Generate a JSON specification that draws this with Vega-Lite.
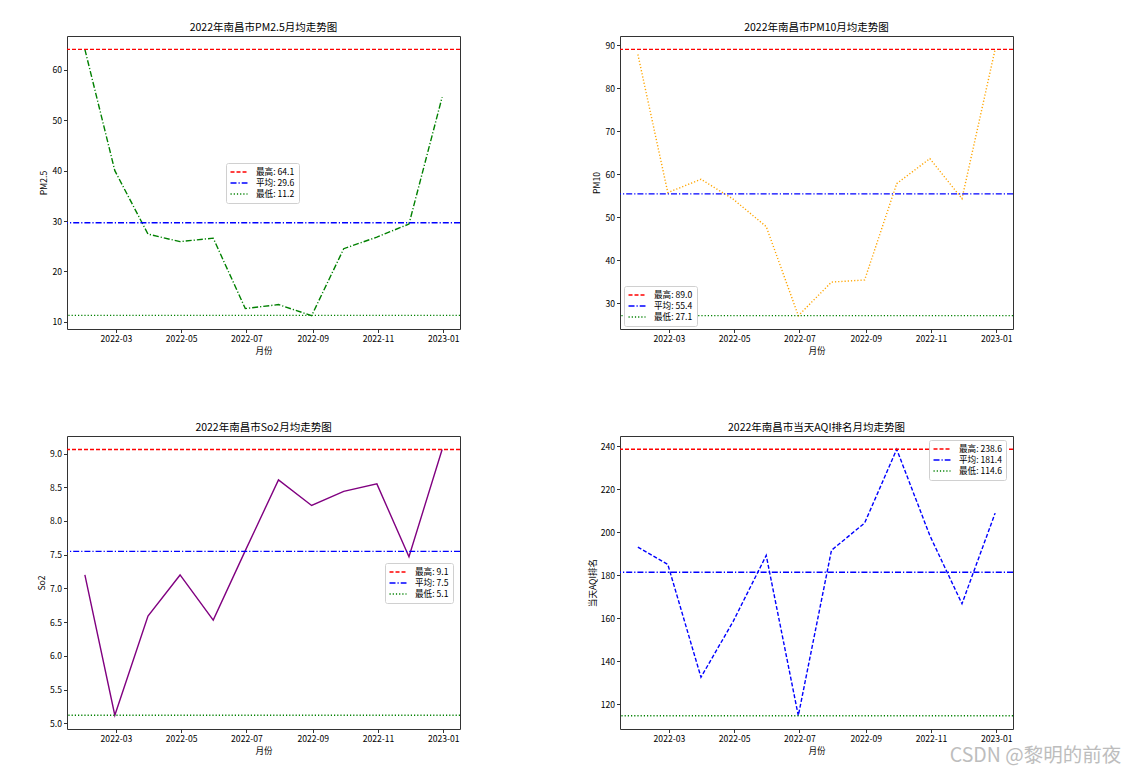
{
  "$schema": "https://vega.github.io/schema/vega-lite/v6.json",
  "background": "white",
  "padding": {"left": 37, "top": 22, "right": 5, "bottom": 5},
  "datasets": {
    "series": [
      {"metric": "PM2.5", "date": "2022-01-31", "value": 64.1},
      {"metric": "PM2.5", "date": "2022-02-28", "value": 40.0},
      {"metric": "PM2.5", "date": "2022-03-31", "value": 27.4},
      {"metric": "PM2.5", "date": "2022-04-30", "value": 25.9},
      {"metric": "PM2.5", "date": "2022-05-31", "value": 26.6},
      {"metric": "PM2.5", "date": "2022-06-30", "value": 12.6},
      {"metric": "PM2.5", "date": "2022-07-31", "value": 13.4},
      {"metric": "PM2.5", "date": "2022-08-31", "value": 11.2},
      {"metric": "PM2.5", "date": "2022-09-30", "value": 24.5},
      {"metric": "PM2.5", "date": "2022-10-31", "value": 26.8},
      {"metric": "PM2.5", "date": "2022-11-30", "value": 29.4},
      {"metric": "PM2.5", "date": "2022-12-31", "value": 54.6},
      {"metric": "PM10", "date": "2022-01-31", "value": 87.8},
      {"metric": "PM10", "date": "2022-02-28", "value": 55.7},
      {"metric": "PM10", "date": "2022-03-31", "value": 58.8},
      {"metric": "PM10", "date": "2022-04-30", "value": 54.2},
      {"metric": "PM10", "date": "2022-05-31", "value": 47.8},
      {"metric": "PM10", "date": "2022-06-30", "value": 27.1},
      {"metric": "PM10", "date": "2022-07-31", "value": 34.9},
      {"metric": "PM10", "date": "2022-08-31", "value": 35.4},
      {"metric": "PM10", "date": "2022-09-30", "value": 57.8},
      {"metric": "PM10", "date": "2022-10-31", "value": 63.6},
      {"metric": "PM10", "date": "2022-11-30", "value": 54.3},
      {"metric": "PM10", "date": "2022-12-31", "value": 89.0},
      {"metric": "So2", "date": "2022-01-31", "value": 7.20},
      {"metric": "So2", "date": "2022-02-28", "value": 5.12},
      {"metric": "So2", "date": "2022-03-31", "value": 6.59},
      {"metric": "So2", "date": "2022-04-30", "value": 7.20},
      {"metric": "So2", "date": "2022-05-31", "value": 6.53},
      {"metric": "So2", "date": "2022-06-30", "value": 7.56},
      {"metric": "So2", "date": "2022-07-31", "value": 8.61},
      {"metric": "So2", "date": "2022-08-31", "value": 8.23},
      {"metric": "So2", "date": "2022-09-30", "value": 8.44},
      {"metric": "So2", "date": "2022-10-31", "value": 8.55},
      {"metric": "So2", "date": "2022-11-30", "value": 7.47},
      {"metric": "So2", "date": "2022-12-31", "value": 9.06},
      {"metric": "AQI", "date": "2022-01-31", "value": 193.1},
      {"metric": "AQI", "date": "2022-02-28", "value": 185.0},
      {"metric": "AQI", "date": "2022-03-31", "value": 132.5},
      {"metric": "AQI", "date": "2022-04-30", "value": 158.4},
      {"metric": "AQI", "date": "2022-05-31", "value": 189.2},
      {"metric": "AQI", "date": "2022-06-30", "value": 114.6},
      {"metric": "AQI", "date": "2022-07-31", "value": 191.6},
      {"metric": "AQI", "date": "2022-08-31", "value": 204.3},
      {"metric": "AQI", "date": "2022-09-30", "value": 238.6},
      {"metric": "AQI", "date": "2022-10-31", "value": 198.4},
      {"metric": "AQI", "date": "2022-11-30", "value": 166.7},
      {"metric": "AQI", "date": "2022-12-31", "value": 208.9}
    ],
    "refs": [
      {"metric": "PM2.5", "label": "最高: 64.1", "value": 64.1},
      {"metric": "PM2.5", "label": "平均: 29.6", "value": 29.65},
      {"metric": "PM2.5", "label": "最低: 11.2", "value": 11.25},
      {"metric": "PM10", "label": "最高: 89.0", "value": 89.0},
      {"metric": "PM10", "label": "平均: 55.4", "value": 55.4},
      {"metric": "PM10", "label": "最低: 27.1", "value": 27.1},
      {"metric": "So2", "label": "最高: 9.1", "value": 9.06},
      {"metric": "So2", "label": "平均: 7.5", "value": 7.55},
      {"metric": "So2", "label": "最低: 5.1", "value": 5.12},
      {"metric": "AQI", "label": "最高: 238.6", "value": 238.6},
      {"metric": "AQI", "label": "平均: 181.4", "value": 181.4},
      {"metric": "AQI", "label": "最低: 114.6", "value": 114.6}
    ]
  },
  "title": {"text": "CSDN @黎明的前夜", "orient": "bottom", "anchor": "end", "fontSize": 19.5, "color": "#bdbdbd", "fontWeight": "normal", "offset": -8, "dx": 107},
  "columns": 2,
  "bounds": "flush",
  "spacing": {"row": 107, "column": 160},
  "resolve": {
    "scale": {"color": "independent", "strokeDash": "independent", "y": "independent", "x": "independent"},
    "legend": {"color": "independent", "strokeDash": "independent"}
  },
  "concat": [
    {
      "title": "2022年南昌市PM2.5月均走势图",
      "width": 393, "height": 293,
      "layer": [
        {
          "data": {"name": "series"},
          "transform": [{"filter": "datum.metric === 'PM2.5'"}],
          "mark": {"type": "line", "color": "#008000", "strokeWidth": 1.4, "strokeDash": [6, 2, 1.2, 2]},
          "encoding": {
            "x": {"field": "date", "type": "temporal", "scale": {"type": "utc", "domain": [{"year": 2022, "month": 1, "date": 14, "hours": 7, "utc": true}, {"year": 2023, "month": 1, "date": 16, "hours": 17, "utc": true}]}, "axis": {"title": "月份", "format": "%Y-%m", "tickCount": {"interval": "month", "step": 2}}},
            "y": {"field": "value", "type": "quantitative", "scale": {"domain": [8.55, 66.75], "nice": false, "zero": false}, "axis": {"title": "PM2.5", "values": [10, 20, 30, 40, 50, 60]}}
          }
        },
        {
          "data": {"name": "refs"},
          "transform": [{"filter": "datum.metric === 'PM2.5'"}],
          "mark": {"type": "rule", "strokeWidth": 1.4},
          "encoding": {
            "y": {"field": "value", "type": "quantitative", "scale": {"domain": [8.55, 66.75], "nice": false, "zero": false}, "axis": {"title": "PM2.5", "values": [10, 20, 30, 40, 50, 60]}},
            "color": {"field": "label", "type": "nominal", "scale": {"domain": ["最高: 64.1", "平均: 29.6", "最低: 11.2"], "range": ["#ff0000", "#0000ff", "#008000"]}, "legend": {"orient": "none", "legendX": 159, "legendY": 127}},
            "strokeDash": {"field": "label", "type": "nominal", "scale": {"domain": ["最高: 64.1", "平均: 29.6", "最低: 11.2"], "range": [[4, 2], [6, 2, 1.2, 2], [1.2, 2]]}, "legend": {"orient": "none", "legendX": 159, "legendY": 127}}
          }
        }
      ]
    },
    {
      "title": "2022年南昌市PM10月均走势图",
      "width": 393, "height": 293,
      "layer": [
        {
          "data": {"name": "series"},
          "transform": [{"filter": "datum.metric === 'PM10'"}],
          "mark": {"type": "line", "color": "#ffa500", "strokeWidth": 1.4, "strokeDash": [1.2, 2]},
          "encoding": {
            "x": {"field": "date", "type": "temporal", "scale": {"type": "utc", "domain": [{"year": 2022, "month": 1, "date": 14, "hours": 7, "utc": true}, {"year": 2023, "month": 1, "date": 16, "hours": 17, "utc": true}]}, "axis": {"title": "月份", "format": "%Y-%m", "tickCount": {"interval": "month", "step": 2}}},
            "y": {"field": "value", "type": "quantitative", "scale": {"domain": [24.0, 92.1], "nice": false, "zero": false}, "axis": {"title": "PM10", "values": [30, 40, 50, 60, 70, 80, 90]}}
          }
        },
        {
          "data": {"name": "refs"},
          "transform": [{"filter": "datum.metric === 'PM10'"}],
          "mark": {"type": "rule", "strokeWidth": 1.4},
          "encoding": {
            "y": {"field": "value", "type": "quantitative", "scale": {"domain": [24.0, 92.1], "nice": false, "zero": false}, "axis": {"title": "PM10", "values": [30, 40, 50, 60, 70, 80, 90]}},
            "color": {"field": "label", "type": "nominal", "scale": {"domain": ["最高: 89.0", "平均: 55.4", "最低: 27.1"], "range": ["#ff0000", "#0000ff", "#008000"]}, "legend": {"orient": "none", "legendX": 4, "legendY": 250}},
            "strokeDash": {"field": "label", "type": "nominal", "scale": {"domain": ["最高: 89.0", "平均: 55.4", "最低: 27.1"], "range": [[4, 2], [6, 2, 1.2, 2], [1.2, 2]]}, "legend": {"orient": "none", "legendX": 4, "legendY": 250}}
          }
        }
      ]
    },
    {
      "title": "2022年南昌市So2月均走势图",
      "width": 393, "height": 293,
      "layer": [
        {
          "data": {"name": "series"},
          "transform": [{"filter": "datum.metric === 'So2'"}],
          "mark": {"type": "line", "color": "#800080", "strokeWidth": 1.4},
          "encoding": {
            "x": {"field": "date", "type": "temporal", "scale": {"type": "utc", "domain": [{"year": 2022, "month": 1, "date": 14, "hours": 7, "utc": true}, {"year": 2023, "month": 1, "date": 16, "hours": 17, "utc": true}]}, "axis": {"title": "月份", "format": "%Y-%m", "tickCount": {"interval": "month", "step": 2}}},
            "y": {"field": "value", "type": "quantitative", "scale": {"domain": [4.916, 9.26], "nice": false, "zero": false}, "axis": {"title": "So2", "values": [5.0, 5.5, 6.0, 6.5, 7.0, 7.5, 8.0, 8.5, 9.0], "format": ".1f"}}
          }
        },
        {
          "data": {"name": "refs"},
          "transform": [{"filter": "datum.metric === 'So2'"}],
          "mark": {"type": "rule", "strokeWidth": 1.4},
          "encoding": {
            "y": {"field": "value", "type": "quantitative", "scale": {"domain": [4.916, 9.26], "nice": false, "zero": false}, "axis": {"title": "So2", "values": [5.0, 5.5, 6.0, 6.5, 7.0, 7.5, 8.0, 8.5, 9.0], "format": ".1f"}},
            "color": {"field": "label", "type": "nominal", "scale": {"domain": ["最高: 9.1", "平均: 7.5", "最低: 5.1"], "range": ["#ff0000", "#0000ff", "#008000"]}, "legend": {"orient": "none", "legendX": 318, "legendY": 127}},
            "strokeDash": {"field": "label", "type": "nominal", "scale": {"domain": ["最高: 9.1", "平均: 7.5", "最低: 5.1"], "range": [[4, 2], [6, 2, 1.2, 2], [1.2, 2]]}, "legend": {"orient": "none", "legendX": 318, "legendY": 127}}
          }
        }
      ]
    },
    {
      "title": "2022年南昌市当天AQI排名月均走势图",
      "width": 393, "height": 293,
      "layer": [
        {
          "data": {"name": "series"},
          "transform": [{"filter": "datum.metric === 'AQI'"}],
          "mark": {"type": "line", "color": "#0000ff", "strokeWidth": 1.4, "strokeDash": [4, 2]},
          "encoding": {
            "x": {"field": "date", "type": "temporal", "scale": {"type": "utc", "domain": [{"year": 2022, "month": 1, "date": 14, "hours": 7, "utc": true}, {"year": 2023, "month": 1, "date": 16, "hours": 17, "utc": true}]}, "axis": {"title": "月份", "format": "%Y-%m", "tickCount": {"interval": "month", "step": 2}}},
            "y": {"field": "value", "type": "quantitative", "scale": {"domain": [108.4, 244.8], "nice": false, "zero": false}, "axis": {"title": "当天AQI排名", "values": [120, 140, 160, 180, 200, 220, 240]}}
          }
        },
        {
          "data": {"name": "refs"},
          "transform": [{"filter": "datum.metric === 'AQI'"}],
          "mark": {"type": "rule", "strokeWidth": 1.4},
          "encoding": {
            "y": {"field": "value", "type": "quantitative", "scale": {"domain": [108.4, 244.8], "nice": false, "zero": false}, "axis": {"title": "当天AQI排名", "values": [120, 140, 160, 180, 200, 220, 240]}},
            "color": {"field": "label", "type": "nominal", "scale": {"domain": ["最高: 238.6", "平均: 181.4", "最低: 114.6"], "range": ["#ff0000", "#0000ff", "#008000"]}, "legend": {"orient": "none", "legendX": 309, "legendY": 4}},
            "strokeDash": {"field": "label", "type": "nominal", "scale": {"domain": ["最高: 238.6", "平均: 181.4", "最低: 114.6"], "range": [[4, 2], [6, 2, 1.2, 2], [1.2, 2]]}, "legend": {"orient": "none", "legendX": 309, "legendY": 4}}
          }
        }
      ]
    }
  ],
  "config": {
    "font": "Noto Sans CJK SC",
    "view": {"stroke": "#333333", "strokeWidth": 1},
    "axis": {"grid": false, "domain": false, "tickColor": "#333333", "tickSize": 3.5, "labelFontSize": 8.6, "labelColor": "#000000", "titleFontSize": 8.6, "titleFontWeight": "normal", "titleColor": "#000000", "labelPadding": 2, "titlePadding": 3, "labelOverlap": false},
    "axisX": {"labelAngle": 0},
    "title": {"fontSize": 10.5, "fontWeight": "normal", "offset": 3, "color": "#000000"},
    "legend": {"title": null, "symbolType": "M-2,0H2", "symbolSize": 72, "symbolStrokeWidth": 1.5, "symbolOffset": 4, "fillColor": "#ffffff", "strokeColor": "#d0d0d0", "cornerRadius": 2, "padding": 4, "labelFontSize": 8.6, "labelColor": "#000000", "labelOffset": 12, "rowPadding": 1}
  }
}
